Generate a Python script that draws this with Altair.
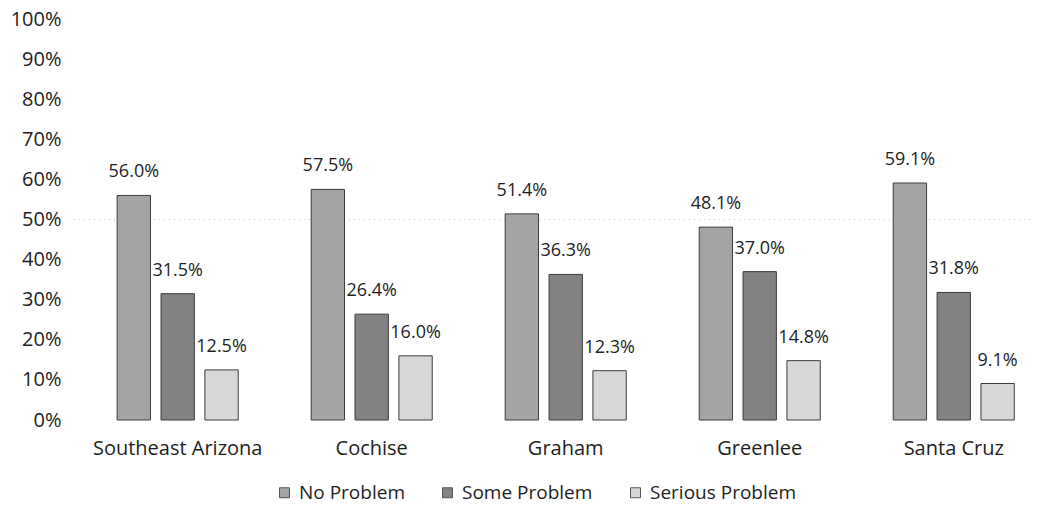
import altair as alt
import pandas as pd

regions = ["Southeast Arizona", "Cochise", "Graham", "Greenlee", "Santa Cruz"]
levels = ["No Problem", "Some Problem", "Serious Problem"]
no_problem = [56.0, 57.5, 51.4, 48.1, 59.1]
some_problem = [31.5, 26.4, 36.3, 37.0, 31.8]
serious_problem = [12.5, 16.0, 12.3, 14.8, 9.1]
tick_values = [0, 0.1, 0.2, 0.3, 0.4, 0.5, 0.6, 0.7, 0.8, 0.9, 1.0]
colors = ["#a4a4a4", "#828282", "#d8d8d8"]

rows = []
for i, r in enumerate(regions):
    for lvl, vals in zip(levels, [no_problem, some_problem, serious_problem]):
        rows.append({"region": r, "level": lvl, "value": vals[i] / 100.0,
                     "label": f"{vals[i]:.1f}%"})
df = pd.DataFrame(rows)

FONT = "Open Sans"
TXT = "#1e1e1e"

x = alt.X("region:N", sort=regions, title=None,
          scale=alt.Scale(paddingInner=0.376, paddingOuter=0.162, align=0.75),
          axis=alt.Axis(labelAngle=0, domain=False, ticks=False, labelPadding=18,
                        labelFontSize=20, labelColor=TXT, labelFont=FONT))
xo = alt.XOffset("level:N", sort=levels,
                 scale=alt.Scale(paddingInner=0.24, paddingOuter=0.0))
y = alt.Y("value:Q", title=None,
          scale=alt.Scale(domain=[0, 1], nice=False),
          axis=alt.Axis(format=".0%", values=tick_values,
                        domain=False, ticks=False, grid=False, labelPadding=9,
                        labelOverlap=False,
                        labelFontSize=20, labelColor=TXT, labelFont=FONT))
color = alt.Color("level:N", sort=levels, title=None,
                  scale=alt.Scale(domain=levels, range=colors),
                  legend=alt.Legend(orient="none", legendX=205, legendY=464,
                                    direction="horizontal",
                                    symbolType="square", symbolSize=100,
                                    symbolStrokeColor="#555", symbolStrokeWidth=1,
                                    labelFontSize=19, labelFont=FONT, labelColor=TXT,
                                    labelOffset=5, columnPadding=33))

base = alt.Chart(df)
grid50 = alt.Chart(pd.DataFrame({"v": [0.5]})).mark_rule(
    color="#c8c8c8", strokeDash=[1, 4], strokeWidth=1).encode(y="v:Q")
bars = base.mark_bar(stroke="#3c3c3c", strokeWidth=1).encode(
    x=x, xOffset=xo, y=y, color=color)
text = base.mark_text(dy=-18, baseline="alphabetic", fontSize=18, font=FONT, color=TXT).encode(
    x=x, xOffset=xo, y=y, text="label:N")

chart = (grid50 + bars + text).properties(
    width=960, height=401,
    autosize=alt.AutoSizeParams(type="none"),
    padding={"left": 62, "right": 2, "top": 11, "bottom": 85},
    background="white",
).configure_view(strokeWidth=0)

chart.save("out.html", embed_options={"renderer": "svg", "actions": False})
